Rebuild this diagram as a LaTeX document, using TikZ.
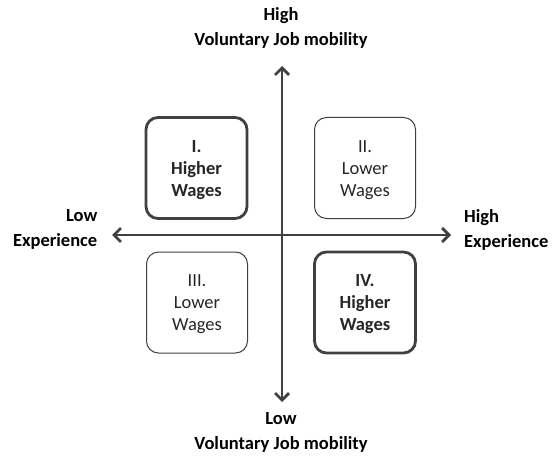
\documentclass[tikz,border=0pt]{standalone}
\usepackage{fontspec}
\setmainfont{Carlito}
\usetikzlibrary{arrows.meta}
\definecolor{axisgray}{HTML}{404040}
\definecolor{txtgray}{HTML}{262626}
\begin{document}
\begin{tikzpicture}[x=1pt,y=-1pt,
  quad/.style={draw=axisgray,rounded corners=12pt,minimum width=101pt,minimum height=101pt,inner sep=0pt},
  strong/.style={quad,line width=2.8pt},
  weak/.style={quad,line width=1pt},
  quadtext/.style={align=center,font=\fontsize{18.5}{22}\selectfont,text=txtgray},
  strongtext/.style={quadtext,font=\fontsize{18.5}{22}\selectfont\bfseries},
  axislabel/.style={font=\fontsize{18.5}{25}\selectfont\bfseries,text=black,inner sep=0pt},
  axis/.style={draw=axisgray,line width=2.8pt,-{Straight Barb[length=7pt,width=14pt,line width=2.8pt]}}]
\useasboundingbox (0,0) rectangle (553,457);
\coordinate (center) at (282,235);
\coordinate (top) at (282,66);
\coordinate (bottom) at (282,402);
\coordinate (left) at (112,235);
\coordinate (right) at (451,235);
\draw[axis] (center) -- (top);
\draw[axis] (center) -- (bottom);
\draw[axis] (center) -- (left);
\draw[axis] (center) -- (right);
\node[strong] (q1) at (196.5,168) {};
\node[weak] (q2) at (365,168) {};
\node[weak] (q3) at (197,302.5) {};
\node[strong] (q4) at (365,302.5) {};
\node[strongtext] (t1) at ([yshift=-2pt]q1.center) {I.\\Higher\\Wages};
\node[quadtext] (t2) at ([yshift=-2pt]q2.center) {II.\\Lower\\Wages};
\node[quadtext] (t3) at ([yshift=-2pt]q3.center) {III.\\Lower\\Wages};
\node[strongtext] (t4) at ([yshift=-2pt]q4.center) {IV.\\Higher\\Wages};
\node[axislabel,align=center] (tl) at (281,28) {High\\Voluntary Job mobility};
\node[axislabel,align=center] (bl) at (281,432.5) {Low\\Voluntary Job mobility};
\node[axislabel,align=right,anchor=east] (ll) at (97.5,229.5) {Low\\Experience};
\node[axislabel,align=left,anchor=west] (rl) at (464,229.5) {High\\Experience};
\end{tikzpicture}
\end{document}
